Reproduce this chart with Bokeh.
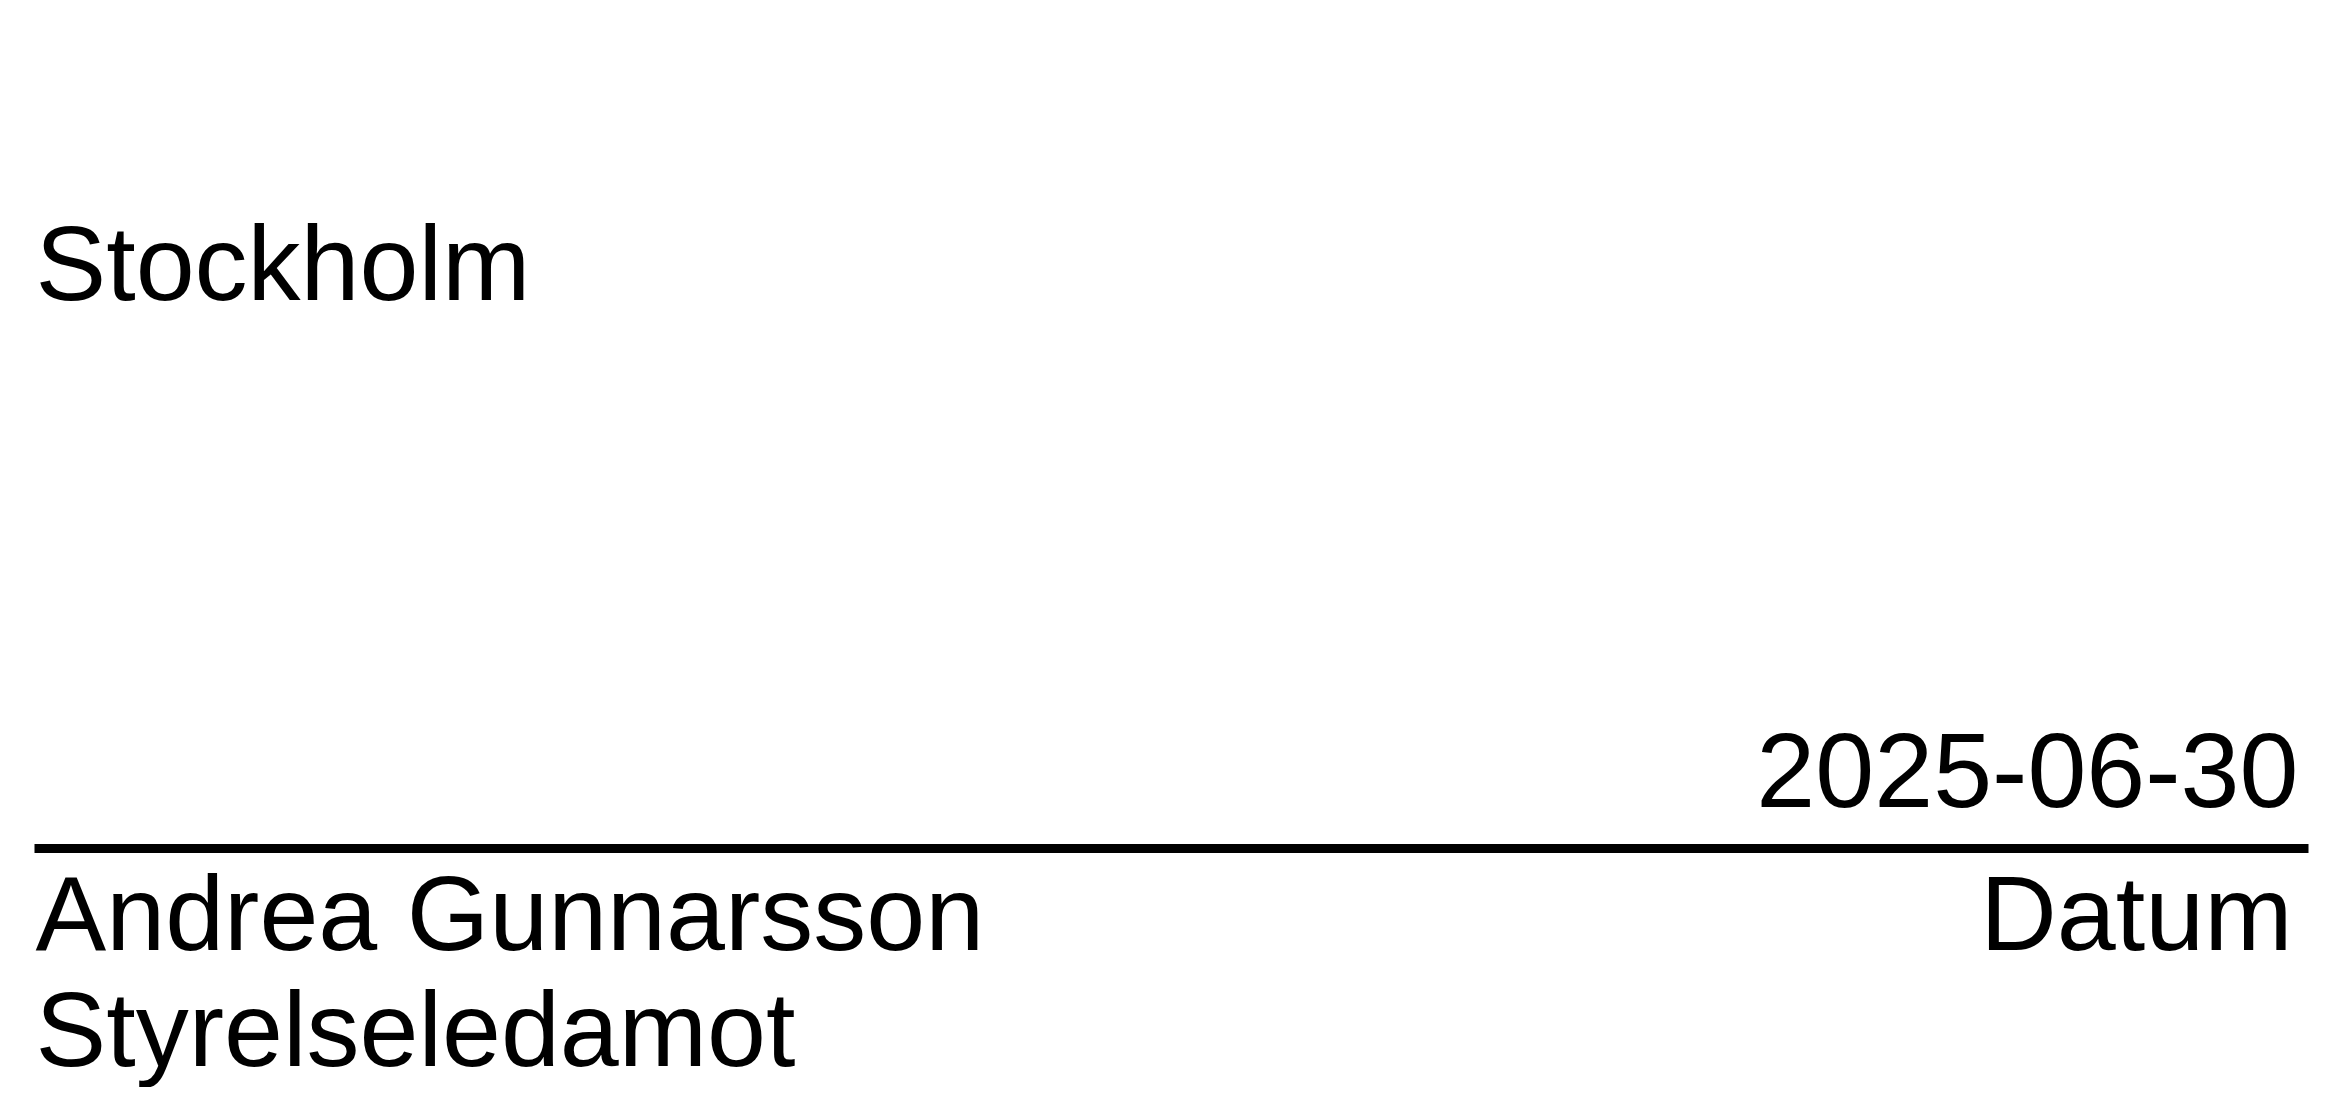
from bokeh.plotting import figure
from bokeh.models import Range1d
from bokeh.embed import file_html
from bokeh.resources import INLINE
from bokeh.core.properties import value

# Text content of the signature block (handwritten signature intentionally omitted)
place = ["Stockholm"]
date = ["2025-06-30"]
left_labels = ["Andrea Gunnarsson", "Styrelseledamot"]
right_labels = ["Datum"]

W, H = 2313, 1087
p = figure(width=W, height=H, output_backend="svg", toolbar_location=None,
           x_range=Range1d(0, W), y_range=Range1d(H, 0),
           min_border=0, background_fill_color="white", border_fill_color="white")
p.axis.visible = False
p.grid.visible = False
p.outline_line_color = None

FONT = value("Liberation Sans")
SIZE = value("106px")

def page(v):
    return v - 8

# signature line
p.line(x=[page(42), page(2316)], y=[page(856), page(856)], line_color="black", line_width=9)

p.text(x=[page(43)], y=[page(270)], text=place, text_font=FONT, text_font_size=SIZE,
       text_align="left", text_baseline="alphabetic", text_color="black")
p.text(x=[page(2306)], y=[page(778)], text=date, text_font=FONT, text_font_size=SIZE,
       text_align="right", text_baseline="alphabetic", text_color="black")
p.text(x=[page(43), page(43)], y=[page(920), page(1036)], text=left_labels, text_font=FONT,
       text_font_size=SIZE, text_align="left", text_baseline="alphabetic", text_color="black")
p.text(x=[page(2300)], y=[page(920)], text=right_labels, text_font=FONT, text_font_size=SIZE,
       text_align="right", text_baseline="alphabetic", text_color="black")

open("out.html", "w").write(file_html(p, INLINE))
